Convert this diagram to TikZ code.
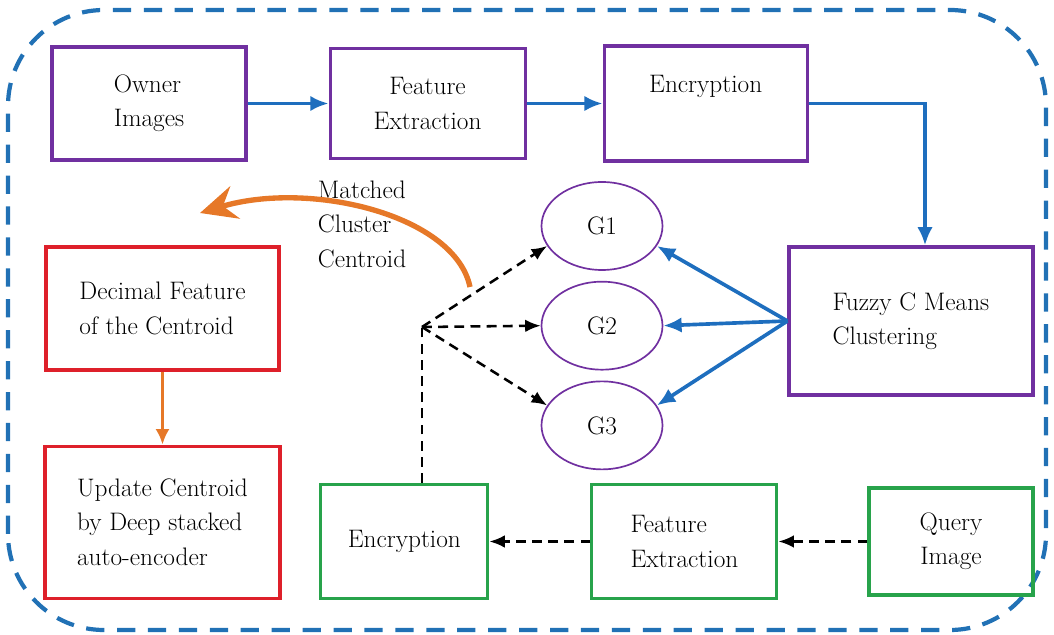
\documentclass[tikz,border=0pt]{standalone}
\usepackage{xcolor}
\usepackage{tikz}
\usetikzlibrary{shapes.geometric, arrows.meta, positioning, calc}

\definecolor{frameblue}{RGB}{33,113,181}
\definecolor{flowblue}{RGB}{30,110,190}
\definecolor{boxpurple}{RGB}{112,48,160}
\definecolor{boxred}{RGB}{222,32,42}
\definecolor{boxgreen}{RGB}{40,163,75}
\definecolor{flowor}{RGB}{230,120,40}

\begin{document}
\begin{tikzpicture}[font=\fontsize{18}{24.5}\selectfont,
                % Define styles
                pbox/.style={rectangle, draw=boxpurple, line width=2.2pt, align=center},
                rbox/.style={rectangle, draw=boxred, line width=2.2pt, align=left},
                gbox/.style={rectangle, draw=boxgreen, line width=2.2pt, align=center},
                group/.style={ellipse, draw=boxpurple, line width=1.2pt, minimum width=3.025cm, minimum height=2.2cm, inner sep=0pt},
                line/.style={draw=flowblue, line width=2.6pt, -{Latex[length=13pt, width=11pt]}},
                qline/.style={draw=black, line width=1.8pt, dash pattern=on 7pt off 4.5pt, -{Latex[length=11pt, width=9pt]}},
                oline/.style={draw=flowor, line width=2pt, -{Latex[length=11pt, width=10pt]}},
                frame/.style={draw=frameblue, line width=3pt, dash pattern=on 13pt off 9pt, rounded corners=2.4cm}
            ]
            \useasboundingbox (0,0) rectangle (26.35,15.875);

            % --- Outer frame ---
            \draw [frame] (0.2,0.125) rectangle (26.15,15.625);

            % --- Nodes ---

            % Owner side
            \node [pbox, align=left, minimum width=4.85cm, minimum height=2.825cm] (owner) at (3.725,13.2875) {Owner\\Images};
            \node [pbox, right=2.025cm of owner, minimum width=4.875cm, minimum height=2.75cm] (featA) {Feature\\Extraction};
            \node [pbox, right=1.9cm of featA, minimum width=5.075cm, minimum height=2.875cm, text depth=1cm] (encA) {Encryption};
            \node [pbox, align=left, minimum width=6.1cm, minimum height=3.7cm] (fcm) at (22.775,7.85) {Fuzzy C Means\\Clustering};

            % Clusters
            \node [group] (g1) at (15.05,10.225) {G1};
            \node [group, below=0.25cm of g1] (g2) {G2};
            \node [group, below=0.25cm of g2] (g3) {G3};

            % Query side
            \node [gbox, align=center, minimum width=4.1cm, minimum height=2.675cm] (query) at (23.775,2.3375) {Query\\Image};
            \node [gbox, align=left, left=2.225cm of query, minimum width=4.625cm, minimum height=2.85cm] (featB) {Feature\\Extraction};
            \node [gbox, left=2.525cm of featB, minimum width=4.175cm, minimum height=2.85cm] (encB) {Encryption};
            \coordinate (split) at (10.55,7.7);

            % Centroid update
            \node [rbox, minimum width=5.825cm, minimum height=3.075cm] (dec) at (4.0625,8.1625) {Decimal Feature\\of the Centroid};
            \node [rbox, below=1.825cm of dec, minimum width=5.875cm, minimum height=3.8cm] (upd) {Update Centroid\\by Deep stacked\\auto-encoder};

            \node [anchor=west, align=left] (mcc) at (7.825,10.275) {Matched\\Cluster\\Centroid};
            \coordinate (mtail) at (11.75,8.7);
            \coordinate (mhead) at (5.0,10.55);

            % --- Edges ---
            \path [line] (owner.east) -- (owner.east -| featA.west);
            \path [line] (featA.east) -- (featA.east -| encA.west);
            \path [line] (encA.east) -| ([xshift=0.35cm]fcm.north);
            \path [line] (fcm.west) -- (g1.-20);
            \path [line] (fcm.west) -- (g2.east);
            \path [line] (fcm.west) -- (g3.20);

            \path [qline] (query.west) -- (query.west -| featB.east);
            \path [qline] (featB.west) -- (featB.west -| encB.east);
            \draw [draw=black, line width=1.8pt, dash pattern=on 7pt off 4.5pt] (split |- encB.north) -- (split);
            \path [qline] (split) -- (g1.200);
            \path [qline] (split) -- (g2.west);
            \path [qline] (split) -- (g3.160);

            \path [oline] (dec.south) -- (dec.south |- upd.north);
            \draw [draw=flowor, line width=3.8pt, -{Stealth[length=26pt, width=24pt, inset=9pt]}] (mtail) .. controls (11.375,10.5) and (7.75,11.375) .. (mhead);

        \end{tikzpicture}
\end{document}
